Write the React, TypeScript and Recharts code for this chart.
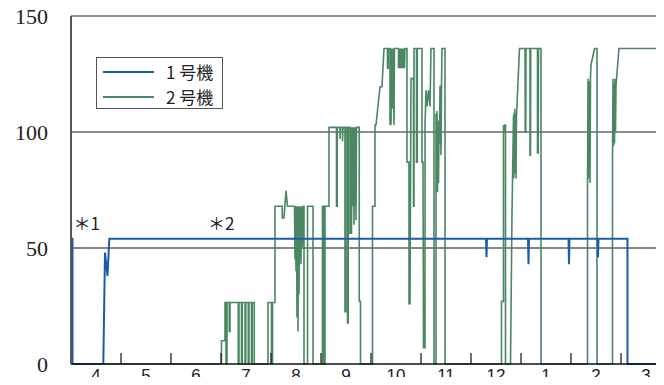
import React from "react";
import {
  LineChart,
  Line,
  XAxis,
  YAxis,
  ReferenceLine,
  ReferenceDot,
  Legend,
} from "recharts";

// month labels (April .. March), one per month slot
const months = ["4", "5", "6", "7", "8", "9", "10", "11", "12", "1", "2", "3"];
const yTicks = [0, 50, 100, 150];

// 1号機 : time in months from start of April, load
const unit1Time = [
  0, 0.03, 0.03, 0.646, 0.68, 0.73, 0.766, 8.3, 8.31, 8.32, 9.14, 9.15, 9.16,
  9.95, 9.96, 9.97, 10.53, 10.54, 10.55, 11.13, 11.13, 12,
];
const unit1Load = [
  54, 54, 0, 0, 48, 38, 54, 54, 46, 54, 54, 43, 54, 54, 43, 54, 54, 46, 54, 54,
  0, 0,
];

// 2号機
const unit2Time = [
  0, 3.01, 3.01, 3.08, 3.08, 3.1, 3.1, 3.12, 3.12, 3.165, 3.165, 3.18, 3.18,
  3.345, 3.345, 3.36, 3.36, 3.41, 3.41, 3.425, 3.425, 3.48, 3.48, 3.495, 3.495,
  3.545, 3.545, 3.56, 3.56, 3.61, 3.61, 3.625, 3.625, 3.665, 3.665, 3.94, 3.94,
  4.01, 4.01, 4.03, 4.03, 4.08, 4.08, 4.225, 4.225, 4.26, 4.3, 4.33, 4.47, 4.48,
  4.49, 4.5, 4.51, 4.52, 4.53, 4.54, 4.55, 4.56, 4.57, 4.58, 4.59, 4.6, 4.61,
  4.62, 4.63, 4.64, 4.65, 4.66, 4.66, 4.73, 4.73, 4.84, 4.84, 5.03, 5.03, 5.06,
  5.06, 5.08, 5.08, 5.16, 5.16, 5.31, 5.31, 5.325, 5.325, 5.38, 5.38, 5.39,
  5.43, 5.43, 5.44, 5.48, 5.48, 5.495, 5.495, 5.53, 5.53, 5.545, 5.545, 5.58,
  5.58, 5.595, 5.61, 5.62, 5.64, 5.65, 5.66, 5.67, 5.68, 5.69, 5.7, 5.71,
  5.765, 5.765, 5.79, 5.79, 6.03, 6.03, 6.08, 6.08, 6.1, 6.18, 6.22, 6.26,
  6.33, 6.33, 6.345, 6.345, 6.38, 6.38, 6.39, 6.4, 6.41, 6.43, 6.44, 6.46,
  6.47, 6.55, 6.55, 6.56, 6.57, 6.58, 6.59, 6.6, 6.61, 6.62, 6.63, 6.64, 6.65,
  6.66, 6.67, 6.68, 6.72, 6.72, 6.76, 6.76, 6.78, 6.8, 6.85, 6.85, 6.86, 6.86,
  6.91, 6.91, 6.925, 6.925, 7.02, 7.02, 7.04, 7.05, 7.08, 7.08, 7.1, 7.12,
  7.15, 7.18, 7.2, 7.26, 7.26, 7.3, 7.3, 7.31, 7.32, 7.33, 7.34, 7.35, 7.36,
  7.37, 7.38, 7.4, 7.41, 7.42, 7.48, 7.48, 8.61, 8.61, 8.65, 8.65, 8.67, 8.68,
  8.69, 8.69, 8.79, 8.82, 8.85, 8.855, 8.86, 8.87, 8.875, 8.88, 8.89, 8.9,
  8.91, 8.97, 9.08, 9.085, 9.095, 9.1, 9.18, 9.18, 9.19, 9.195, 9.33, 9.33,
  9.345, 9.35, 9.4, 9.4, 10.33, 10.33, 10.34, 10.35, 10.36, 10.365, 10.37,
  10.38, 10.39, 10.4, 10.47, 10.52, 10.52, 10.83, 10.83, 10.84, 10.85, 10.86,
  10.87, 10.88, 10.89, 10.9, 10.96, 12,
];
const unit2Load = [
  0, 0, 10, 10, 26.5, 26.5, 0, 0, 26.5, 26.5, 14, 14, 26.5,
  26.5, 0, 0, 26.5, 26.5, 0, 0, 26.5, 26.5, 0, 0, 26.5,
  26.5, 0, 0, 26.5, 26.5, 0, 0, 26.5, 26.5, 0, 0, 26.5,
  26.5, 0, 0, 26.5, 26.5, 68, 68, 63, 63, 74.7, 68, 68, 45,
  68, 40, 68, 20, 68, 14, 68, 30, 68, 45, 68, 43, 68,
  50, 68, 51, 68, 68, 0, 0, 68, 68, 0, 0, 68, 68,
  0, 0, 68, 68, 102, 102, 68, 68, 102, 102, 97, 102,
  102, 96, 102, 102, 22.5, 22.5, 102, 102, 17.7, 17.7, 102, 102,
  56, 102, 56, 102, 68, 102, 60, 102, 68, 102, 62, 102,
  102, 27, 27, 0, 0, 68, 68, 103, 103, 119.5, 119.5, 136,
  136, 127.5, 127.5, 136, 136, 103, 136, 103, 136, 110, 136, 103,
  136, 136, 127.5, 136, 127.5, 136, 127.5, 136, 127.5, 136, 127.5, 136, 127.5,
  136, 127.5, 136, 136, 87, 87, 26, 26, 123, 123, 68, 68, 136,
  136, 87, 87, 136, 136, 87, 87, 7, 7, 103, 118, 111,
  118, 111, 136, 136, 0, 0, 108, 80, 109, 74, 105, 78, 100,
  95, 120, 90, 120, 136, 136, 0, 0, 27, 27, 103, 100, 103,
  103, 0, 0, 65, 107, 80, 108, 82, 110, 85, 108, 80,
  107, 136, 136, 100, 100, 136, 136, 90, 90, 136, 136, 91,
  91, 136, 136, 0, 0, 76, 123, 80, 120, 85, 122,
  78, 124, 129, 136, 136, 0, 0, 89, 123, 94, 121,
  95, 123, 100, 120, 136, 136,
];

const unit1 = unit1Time.map((t, i) => ({ t, v: unit1Load[i] }));
const unit2 = unit2Time.map((t, i) => ({ t, v: unit2Load[i] }));

const MonthTick = (props: any) => {
  const { x, y, payload } = props;
  return (
    <g>
      {payload.value > 0 && (
        <line x1={x} y1={y} x2={x} y2={y - 11} stroke="#222" strokeWidth={1.3} />
      )}
      <text
        x={x + 25}
        y={y + 17}
        textAnchor="middle"
        fontFamily="Liberation Sans, Arial, sans-serif"
        fontSize={17}
        fill="#222"
      >
        {months[payload.value]}
      </text>
    </g>
  );
};

const Note = (props: any) => {
  const { viewBox, value } = props;
  return (
    <text
      x={viewBox.x}
      y={viewBox.y}
      dominantBaseline="central"
      fontFamily="'Noto Sans CJK JP', sans-serif"
      fontSize={17}
      fill="#222"
    >
      {value}
    </text>
  );
};

const renderLegend = (props: any) => {
  const items = [...(props.payload || [])].sort((a, b) =>
    String(a.value).localeCompare(String(b.value))
  );
  return (
    <div
      style={{
        border: "1px solid #555",
        background: "#fff",
        boxSizing: "border-box",
        width: 127,
        height: 52,
        padding: "1px 0 0 6px",
      }}
    >
      {items.map((it) => (
        <div
          key={it.value}
          style={{ display: "flex", alignItems: "center", height: 25 }}
        >
          <div style={{ width: 51, height: 0, borderTop: `2px solid ${it.color}` }} />
          <span
            style={{
              marginLeft: 12,
              fontFamily: "'Noto Sans CJK JP', sans-serif",
              fontSize: 17,
              color: "#222",
              lineHeight: "25px",
              whiteSpace: "pre",
            }}
          >
            {it.value}
          </span>
        </div>
      ))}
    </div>
  );
};

export default function App() {
  return (
    <div
      style={{
        margin: -8,
        width: 664,
        height: 385,
        overflow: "hidden",
        position: "relative",
        background: "#fff",
      }}
    >
      <LineChart
        width={680}
        height={385}
        margin={{ top: 16, right: 9, bottom: 0, left: 0 }}
      >
        <XAxis
          dataKey="t"
          type="number"
          domain={[0, 12]}
          ticks={[0, 1, 2, 3, 4, 5, 6, 7, 8, 9, 10, 11]}
          interval={0}
          height={21}
          tickSize={0}
          tickMargin={0}
          tickLine={false}
          axisLine={{ stroke: "#111", strokeWidth: 1.5 }}
          tick={<MonthTick />}
          allowDataOverflow
        />
        <YAxis
          type="number"
          domain={[0, 150]}
          ticks={yTicks}
          width={71}
          tickSize={0}
          tickMargin={23}
          tickLine={false}
          axisLine={{ stroke: "#555", strokeWidth: 2 }}
          tick={{ fill: "#222", fontSize: 22, fontFamily: "Liberation Serif, serif" }}
        />
        <ReferenceLine y={150} stroke="#8c8c8c" strokeWidth={2} />
        <ReferenceLine y={100} stroke="#8c8c8c" strokeWidth={2} />
        <ReferenceLine y={50} stroke="#111" strokeWidth={1.2} />
        <Legend
          layout="vertical"
          align="center"
          verticalAlign="middle"
          content={renderLegend}
          wrapperStyle={{ left: 96, top: 57, width: 127 }}
        />
        <Line
          data={unit2}
          dataKey="v"
          name="2 号機"
          type="linear"
          stroke="#4b8762"
          strokeWidth={1.6}
          dot={false}
          activeDot={false}
          isAnimationActive={false}
        />
        <Line
          data={unit1}
          dataKey="v"
          name="1 号機"
          type="linear"
          stroke="#1d5ca8"
          strokeWidth={2}
          dot={false}
          activeDot={false}
          isAnimationActive={false}
        />
        <ReferenceDot
          x={0.05}
          y={61}
          r={0}
          fill="none"
          stroke="none"
          label={{ value: "＊1", content: <Note /> }}
        />
        <ReferenceDot
          x={2.74}
          y={61}
          r={0}
          fill="none"
          stroke="none"
          label={{ value: "＊2", content: <Note /> }}
        />
      </LineChart>
    </div>
  );
}
